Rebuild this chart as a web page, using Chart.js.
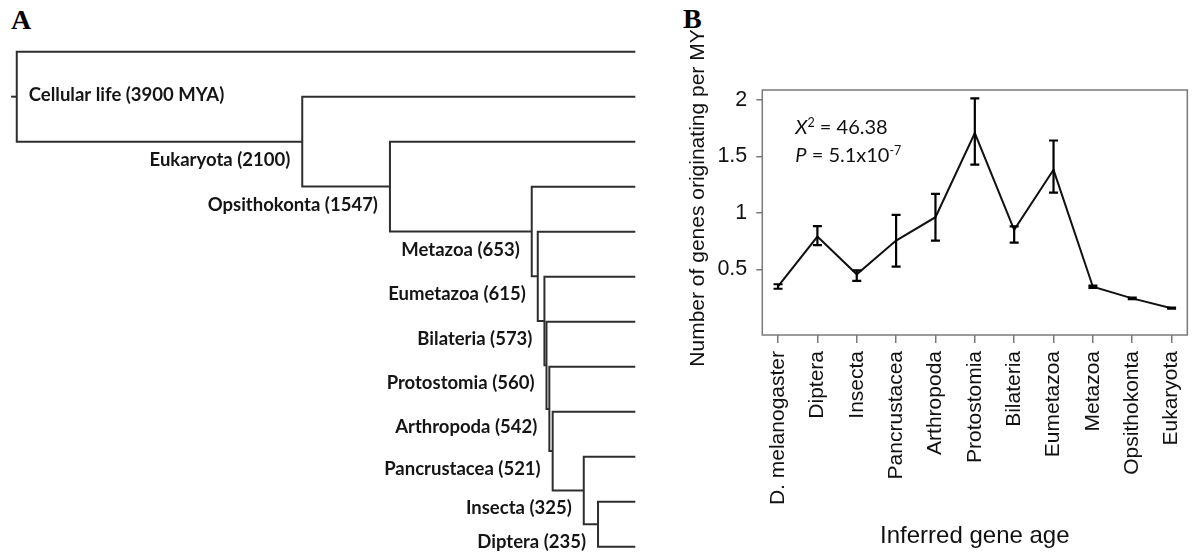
<!DOCTYPE html>
<html>
<head>
<meta charset="utf-8">
<title>Gene origination</title>
<script src="https://cdn.jsdelivr.net/npm/chart.js@4.4.1/dist/chart.umd.min.js"></script>
<style>
  html, body { margin: 0; padding: 0; background: #fff; overflow: hidden; }
  body { width: 1198px; height: 554px; position: relative; }
  .tag { position: absolute; font-family: "Liberation Serif", "Times New Roman", serif; font-weight: bold; font-size: 28px; line-height: 1; color: #000; }
  #treeChart { position: absolute; left: 0; top: 0; }
  #rateChart { position: absolute; left: 660px; top: 0; }
</style>
</head>
<body>
<div class="tag" style="left:11px; top:6px;">A</div>
<div class="tag" style="left:683px; top:5px;">B</div>
<canvas id="treeChart" width="660" height="554"></canvas>
<canvas id="rateChart" width="545" height="554"></canvas>

<script>
// --- panel A: lineage of D. melanogaster, split ages in MYA ---
const cladeNames = ['Cellular life', 'Eukaryota', 'Opsithokonta', 'Metazoa', 'Eumetazoa',
  'Bilateria', 'Protostomia', 'Arthropoda', 'Pancrustacea', 'Insecta', 'Diptera'];
const cladeAges = [3900, 2100, 1547, 653, 615, 573, 560, 542, 521, 325, 235];

// --- panel B: genes originating per million years, with error bars ---
const ageGroups = ['D. melanogaster', 'Diptera', 'Insecta', 'Pancrustacea', 'Arthropoda',
  'Protostomia', 'Bilateria', 'Eumetazoa', 'Metazoa', 'Opsithokonta', 'Eukaryota'];
const genesPerMY = [0.348, 0.79, 0.455, 0.755, 0.962, 1.708, 0.85, 1.382, 0.345, 0.242, 0.155];
const errLow = [0.327, 0.714, 0.397, 0.523, 0.754, 1.429, 0.736, 1.18, 0.335, 0.236, 0.15];
const errHigh = [0.367, 0.882, 0.49, 0.982, 1.169, 2.015, 0.88, 1.642, 0.355, 0.248, 0.16];
const yTickValues = [0.5, 1, 1.5, 2];
const chiSquare = '46.38';
const pValue = '5.1x10';
const pExponent = '-7';

Chart.defaults.font.family = '"Liberation Sans", Arial, sans-serif';
Chart.defaults.color = '#111';

// ladder tree: node k joins leaf k with node k+1 (the last node joins two leaves)
const leafCount = cladeAges.length + 1;
const nodeY = new Array(cladeAges.length);
for (let k = cladeAges.length - 1; k >= 0; k--) {
  const childY = (k === cladeAges.length - 1) ? k + 1 : nodeY[k + 1];
  nodeY[k] = (k + childY) / 2;
}

const treeLines = [];
cladeAges.forEach(function (age, k) {
  const last = k === cladeAges.length - 1;
  const childY = last ? k + 1 : nodeY[k + 1];
  const childAge = last ? 0 : cladeAges[k + 1];
  treeLines.push([
    { x: 0, y: k },
    { x: age, y: k },
    { x: age, y: childY },
    { x: childAge, y: childY }
  ]);
});
// little stem on the root
treeLines.push([{ x: cladeAges[0] + 36, y: nodeY[0] }, { x: cladeAges[0], y: nodeY[0] }]);

const treeLabels = {
  id: 'treeLabels',
  afterDatasetsDraw(chart) {
    const ctx = chart.ctx;
    const xs = chart.scales.x, ys = chart.scales.y;
    ctx.save();
    ctx.fillStyle = '#151515';
    ctx.font = 'bold 18.5px Lato';
    ctx.textBaseline = 'middle';
    cladeNames.forEach(function (name, k) {
      const px = xs.getPixelForValue(cladeAges[k]);
      const py = ys.getPixelForValue(nodeY[k]);
      if (k === 0) {
        ctx.textAlign = 'left';
        ctx.fillText(name + ' (' + cladeAges[k] + ' MYA)', px + 12, py - 2);
      } else {
        ctx.textAlign = 'right';
        ctx.fillText(name + ' (' + cladeAges[k] + ')', px - 12, py + 18);
      }
    });
    ctx.restore();
  }
};

new Chart(document.getElementById('treeChart'), {
  type: 'scatter',
  data: {
    datasets: treeLines.map(function (pts) {
      return {
        data: pts,
        showLine: true,
        borderColor: '#2e2e2e',
        borderWidth: 2,
        pointRadius: 0,
        borderJoinStyle: 'miter',
        clip: false
      };
    })
  },
  options: {
    responsive: false,
    animation: false,
    layout: { padding: 0 },
    plugins: { legend: { display: false }, tooltip: { enabled: false } },
    scales: {
      x: { type: 'linear', reverse: true, min: -155.7, max: 4005.7, display: false },
      y: { type: 'linear', reverse: true, min: -1.149, max: leafCount - 1 + 0.162, display: false }
    }
  },
  plugins: [treeLabels]
});

// plot frame
const frameBox = {
  id: 'frameBox',
  beforeDatasetsDraw(chart) {
    const { ctx, chartArea } = chart;
    ctx.save();
    ctx.strokeStyle = '#7a7a7a';
    ctx.lineWidth = 1.5;
    ctx.strokeRect(chartArea.left, chartArea.top, chartArea.right - chartArea.left, chartArea.bottom - chartArea.top);
    ctx.restore();
  }
};

// vertical error bars with caps
const errorBars = {
  id: 'errorBars',
  afterDatasetsDraw(chart) {
    const ctx = chart.ctx;
    const xs = chart.scales.x, ys = chart.scales.y;
    ctx.save();
    ctx.strokeStyle = '#000';
    ctx.lineWidth = 2.2;
    ageGroups.forEach(function (g, i) {
      const px = xs.getPixelForValue(i + 1);
      const top = ys.getPixelForValue(errHigh[i]);
      const bot = ys.getPixelForValue(errLow[i]);
      ctx.beginPath();
      ctx.moveTo(px, top); ctx.lineTo(px, bot);
      ctx.moveTo(px - 4.5, top); ctx.lineTo(px + 4.5, top);
      ctx.moveTo(px - 4.5, bot); ctx.lineTo(px + 4.5, bot);
      ctx.stroke();
    });
    ctx.restore();
  }
};

function drawRuns(ctx, x, y, runs) {
  runs.forEach(function (r) {
    ctx.font = r.font;
    ctx.fillText(r.text, x, y + (r.dy || 0));
    x += ctx.measureText(r.text).width;
  });
}

const statsNote = {
  id: 'statsNote',
  afterDraw(chart) {
    const { ctx, chartArea } = chart;
    const x0 = chartArea.left + 33;
    ctx.save();
    ctx.fillStyle = '#111';
    ctx.textAlign = 'left';
    ctx.textBaseline = 'alphabetic';
    drawRuns(ctx, x0, chartArea.top + 44, [
      { font: 'italic 20px Lato', text: 'X' },
      { font: '12.5px Lato', text: '2', dy: -7.5 },
      { font: '20px Lato', text: ' = ' + chiSquare }
    ]);
    drawRuns(ctx, x0, chartArea.top + 72, [
      { font: 'italic 20px Lato', text: 'P' },
      { font: '20px Lato', text: ' = ' + pValue },
      { font: '12.5px Lato', text: pExponent, dy: -7.5 }
    ]);
    ctx.restore();
  }
};

// y axis title, centred a little above the middle of the frame
const yTitle = {
  id: 'yTitle',
  afterDraw(chart) {
    const ctx = chart.ctx;
    ctx.save();
    ctx.translate(38, 198);
    ctx.rotate(-Math.PI / 2);
    ctx.font = '21px "Liberation Sans", Arial, sans-serif';
    ctx.fillStyle = '#111';
    ctx.textAlign = 'center';
    ctx.textBaseline = 'middle';
    ctx.fillText('Number of genes originating per MY', 0, 0);
    ctx.restore();
  }
};

new Chart(document.getElementById('rateChart'), {
  type: 'line',
  data: {
    datasets: [{
      data: genesPerMY.map(function (v, i) { return { x: i + 1, y: v }; }),
      borderColor: '#111',
      borderWidth: 2,
      pointRadius: 0,
      tension: 0,
      clip: false
    }]
  },
  options: {
    responsive: false,
    animation: false,
    layout: { padding: { top: 90, right: 5.5, left: 0, bottom: 0 } },
    plugins: { legend: { display: false }, tooltip: { enabled: false } },
    scales: {
      x: {
        type: 'linear',
        min: 0.6,
        max: 11.4,
        afterBuildTicks: function (scale) {
          scale.ticks = ageGroups.map(function (g, i) { return { value: i + 1 }; });
        },
        afterFit: function (scale) { scale.height = 219; },
        ticks: {
          autoSkip: false,
          minRotation: 90,
          maxRotation: 90,
          padding: 8,
          font: { size: 21 },
          callback: function (v) { return ageGroups[v - 1]; }
        },
        grid: { drawOnChartArea: false, tickLength: 8, color: '#7a7a7a', lineWidth: 1.5 },
        border: { display: false },
        title: { display: true, text: 'Inferred gene age', font: { size: 24 }, padding: { top: 0, bottom: 3 } }
      },
      y: {
        type: 'linear',
        min: -0.083,
        max: 2.09,
        afterBuildTicks: function (scale) {
          scale.ticks = yTickValues.map(function (v) { return { value: v }; });
        },
        afterFit: function (scale) { scale.width = 102.3; },
        ticks: { padding: 9, font: { size: 21.5 }, callback: function (v) { return String(v); } },
        grid: { drawOnChartArea: false, tickLength: 6, color: '#7a7a7a', lineWidth: 1.5 },
        border: { display: false }
      }
    }
  },
  plugins: [frameBox, errorBars, statsNote, yTitle]
});
</script>
</body>
</html>
